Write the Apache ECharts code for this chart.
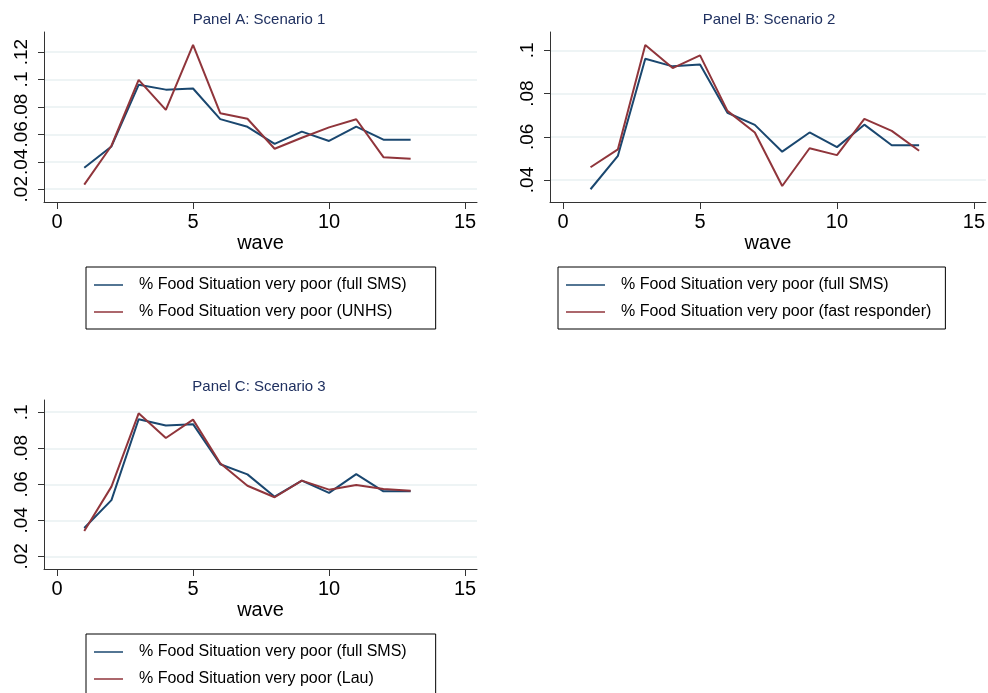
<!DOCTYPE html>
<html>
<head>
<meta charset="utf-8">
<title>Food situation by wave</title>
<script src="https://cdn.jsdelivr.net/npm/echarts@6/dist/echarts.min.js"></script>
<style>
  html, body { margin: 0; padding: 0; background: #ffffff; }
  #chart { width: 988px; height: 693px; }
</style>
</head>
<body>
<div id="chart"></div>
<script>
// Survey waves 1..13
var waves = [1, 2, 3, 4, 5, 6, 7, 8, 9, 10, 11, 12, 13];

// Share reporting a very poor food situation, full SMS sample (same in every panel)
var fullSms = [0.0357, 0.0512, 0.0961, 0.0926, 0.0934, 0.0711, 0.0655, 0.0531, 0.0620, 0.0552, 0.0656, 0.0561, 0.0561];
// Panel A comparison: UNHS weights
var unhs = [0.0234, 0.0517, 0.0997, 0.0778, 0.1253, 0.0754, 0.0714, 0.0495, 0.0575, 0.0651, 0.0710, 0.0434, 0.0422];
// Panel B comparison: fast responders
var fastResponder = [0.0459, 0.0542, 0.1025, 0.0918, 0.0977, 0.0720, 0.0620, 0.0372, 0.0547, 0.0515, 0.0683, 0.0627, 0.0535];
// Panel C comparison: Lau weights
var lau = [0.0341, 0.0587, 0.0994, 0.0857, 0.0959, 0.0717, 0.0592, 0.0528, 0.0620, 0.0570, 0.0596, 0.0574, 0.0564];

var panelTitles = ['Panel A: Scenario 1', 'Panel B: Scenario 2', 'Panel C: Scenario 3'];
var nameFull = '% Food Situation very poor (full SMS)';
var nameUnhs = '% Food Situation very poor (UNHS)';
var nameFast = '% Food Situation very poor (fast responder)';
var nameLau = '% Food Situation very poor (Lau)';

var xTicks = [0, 5, 10, 15];
var yTicksA = [0.02, 0.04, 0.06, 0.08, 0.10, 0.12];
var yTicksB = [0.04, 0.06, 0.08, 0.10];
var yTicksC = [0.02, 0.04, 0.06, 0.08, 0.10];

var NAVY = '#1a476f';
var MAROON = '#90353b';
var AXIS = '#333333';
var GRID = '#e8f0f2';
var FONT = '"Liberation Sans", Arial, Helvetica, sans-serif';

function pairs(ys) {
  return waves.map(function (w, i) { return [w, ys[i]]; });
}

function fmtY(v) {
  return String(+(+v).toFixed(2)).replace(/^0\./, '.');
}

function xAxisFor(gi) {
  return {
    type: 'value', gridIndex: gi, min: -0.48, max: 15.44,
    name: 'wave', nameLocation: 'middle', nameGap: 31,
    nameTextStyle: { fontFamily: FONT, fontSize: 20, color: '#000' },
    axisLine: { show: true, onZero: false, lineStyle: { color: AXIS, width: 1 } },
    axisTick: { show: true, length: 7, customValues: xTicks, lineStyle: { color: AXIS } },
    axisLabel: { customValues: xTicks, margin: 10, fontFamily: FONT, fontSize: 20, color: '#000' },
    splitLine: { show: false }
  };
}

function yAxisFor(gi, min, max, ticks) {
  return {
    type: 'value', gridIndex: gi, min: min, max: max,
    axisLine: { show: true, onZero: false, lineStyle: { color: AXIS, width: 1 } },
    axisTick: { show: true, length: 6, customValues: ticks, lineStyle: { color: AXIS } },
    axisLabel: { customValues: ticks, rotate: 90, margin: 13, fontFamily: FONT, fontSize: 19, color: '#000', formatter: fmtY },
    splitLine: { show: true, lineStyle: { color: GRID, width: 1.5 } }
  };
}

function lineSeries(name, ys, color, gi) {
  return {
    type: 'line', name: name, data: pairs(ys), xAxisIndex: gi, yAxisIndex: gi,
    showSymbol: false, symbol: 'none', silent: true,
    lineStyle: { color: color, width: 2 }, itemStyle: { color: color },
    z: color === MAROON ? 3 : 2
  };
}

function legendFor(left, top, names, iconW, padRight) {
  return {
    left: left, top: top, height: 120, orient: 'vertical', data: names,
    icon: 'rect', itemWidth: iconW, itemHeight: 1.5, itemGap: 11,
    padding: [10, padRight, 9, 8],
    borderColor: '#000', borderWidth: 1, backgroundColor: '#fff',
    selectedMode: false,
    textStyle: { fontFamily: FONT, fontSize: 16, color: '#000', padding: [0, 0, 0, 11] }
  };
}

var titleStyle = { fontFamily: FONT, fontSize: 15, fontWeight: 'normal', color: '#1f3060' };

var option = {
  animation: false,
  backgroundColor: '#ffffff',
  title: [
    { text: panelTitles[0], left: 259, top: 12, textAlign: 'center', textStyle: titleStyle, padding: 0 },
    { text: panelTitles[1], left: 769, top: 12, textAlign: 'center', textStyle: titleStyle, padding: 0 },
    { text: panelTitles[2], left: 259, top: 379, textAlign: 'center', textStyle: titleStyle, padding: 0 }
  ],
  grid: [
    { left: 44, top: 32, width: 433, height: 170 },
    { left: 550, top: 32, width: 438, height: 170 },
    { left: 44, top: 400, width: 433, height: 169 }
  ],
  xAxis: [xAxisFor(0), xAxisFor(1), xAxisFor(2)],
  yAxis: [
    yAxisFor(0, 0.0107, 0.1346, yTicksA),
    yAxisFor(1, 0.0298, 0.1085, yTicksB),
    yAxisFor(2, 0.01294, 0.1068, yTicksC)
  ],
  legend: [
    legendFor(86, 267, [nameFull, nameUnhs], 29, 29),
    legendFor(558, 267, [nameFull, nameFast], 39, 14),
    legendFor(86, 634, [nameFull, nameLau], 29, 29)
  ],
  series: [
    lineSeries(nameFull, fullSms, NAVY, 0),
    lineSeries(nameUnhs, unhs, MAROON, 0),
    lineSeries(nameFull, fullSms, NAVY, 1),
    lineSeries(nameFast, fastResponder, MAROON, 1),
    lineSeries(nameFull, fullSms, NAVY, 2),
    lineSeries(nameLau, lau, MAROON, 2)
  ]
};

var chart = echarts.init(document.getElementById('chart'), null, { renderer: 'canvas' });
chart.setOption(option);
</script>
</body>
</html>
